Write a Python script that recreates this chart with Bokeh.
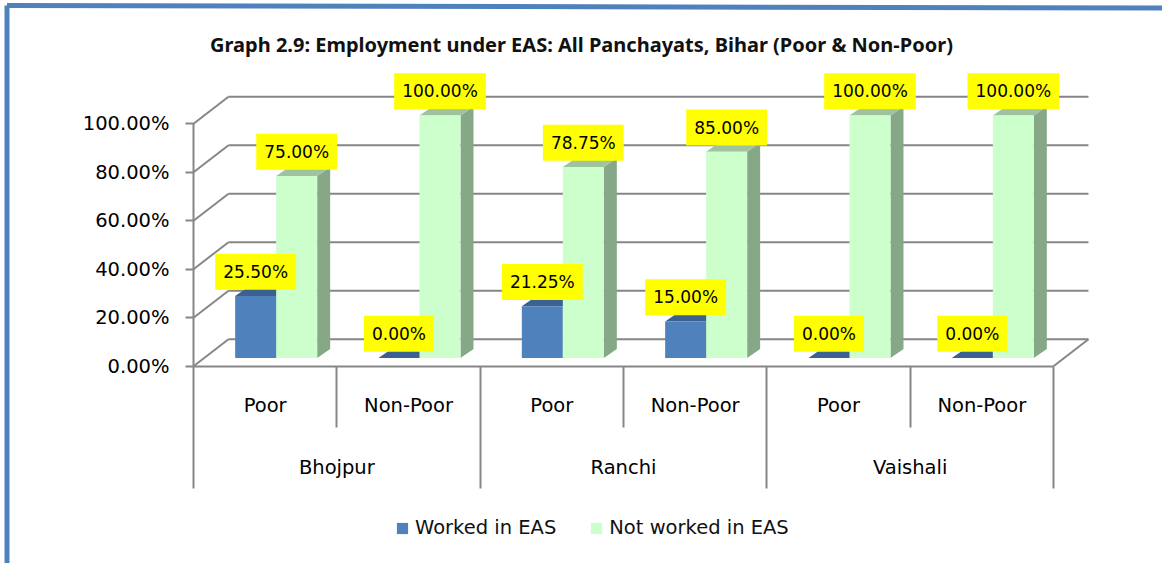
from bokeh.embed import file_html
from bokeh.resources import INLINE
from bokeh.plotting import figure
from bokeh.models import (LinearAxis, FixedTicker, PrintfTickFormatter, Legend, LegendItem,
                          ColumnDataSource, Range1d)

TITLE = "Graph 2.9: Employment under EAS: All Panchayats, Bihar (Poor & Non-Poor)"
districts = ["Bhojpur", "Ranchi", "Vaishali"]
groups = ["Poor", "Non-Poor", "Poor", "Non-Poor", "Poor", "Non-Poor"]
worked = [25.50, 0.00, 21.25, 15.00, 0.00, 0.00]
not_worked = [75.00, 100.00, 78.75, 85.00, 100.00, 100.00]
y_ticks = [0, 20, 40, 60, 80, 100]

W, H = 1162, 563
FRAME_TOP = 58
CAT_PX = 143.33
PCT_PX = 2.425
X0_PX, Y0_PX = 193, 365.7
FONT = "DejaVu Sans"
TITLE_FONT = "Noto Sans"
GREY = "#868686"

x_start = -X0_PX / CAT_PX
x_end = (W - X0_PX) / CAT_PX
y_end = (Y0_PX - FRAME_TOP) / PCT_PX
y_start = (Y0_PX - H) / PCT_PX

# depth of the 3-D box and of the bars, in data units
DX, DY = 35 / CAT_PX, 27 / PCT_PX
BAR_W = 41 / CAT_PX
BDX, BDY = 13 / CAT_PX, 9 / PCT_PX
OFFX, OFFY = 11 / CAT_PX, 8.3 / PCT_PX

p = figure(width=W, height=H, output_backend="svg", toolbar_location=None,
           x_range=Range1d(x_start, x_end), y_range=Range1d(y_start, y_end),
           min_border_left=0, min_border_right=0, min_border_bottom=0, min_border_top=FRAME_TOP,
           x_axis_type=None, y_axis_type=None, outline_line_color=None, title=TITLE,
           styles={"position": "absolute", "left": "0px", "top": "0px"})
p.grid.visible = False
p.title.align = "center"
p.title.text_font = TITLE_FONT
p.title.text_font_size = "20px"
p.title.text_font_style = "bold"
p.title.text_color = "#111111"
p.title.standoff = 2

# window border, drawn at overlay level so that it may leave the plot frame
bx = x_start + 6.5 / CAT_PX
by = (Y0_PX - 7.5) / PCT_PX
p.segment(x0=[bx, bx], y0=[y_start, by + 2.5 / PCT_PX], x1=[bx, x_end], y1=[by + 2.5 / PCT_PX, by],
          line_color="#4F81BD", line_width=5, level="overlay")

n = len(groups)
# walls
p.segment(x0=[0] * 6, y0=y_ticks, x1=[DX] * 6, y1=[t + DY for t in y_ticks], line_color=GREY, line_width=2)
p.segment(x0=[DX] * 6, y0=[t + DY for t in y_ticks], x1=[n + DX] * 6, y1=[t + DY for t in y_ticks],
          line_color=GREY, line_width=2)
p.segment(x0=[n], y0=[0], x1=[n + DX], y1=[DY], line_color=GREY, line_width=2)

centers = [i + 0.5 + OFFX for i in range(n)]


def draw(vals, lefts, front, side, top):
    rights = [l + BAR_W for l in lefts]
    bottoms = [OFFY] * n
    tops = [OFFY + v for v in vals]
    p.patches(xs=[[r, r + BDX, r + BDX, r] for r in rights],
              ys=[[b, b + BDY, t + BDY, t] for b, t in zip(bottoms, tops)],
              fill_color=side, line_color=None)
    p.patches(xs=[[l, r, r + BDX, l + BDX] for l, r in zip(lefts, rights)],
              ys=[[t, t, t + BDY, t + BDY] for t in tops],
              fill_color=top, line_color=None)
    return p.quad(left=lefts, right=rights, bottom=bottoms, top=tops, fill_color=front, line_color=None)


r_blue = draw(worked, [c - BAR_W for c in centers], "#4F81BD", "#3A6190", "#3A6190")
r_green = draw(not_worked, list(centers), "#CCFFCC", "#86A886", "#9FC29F")

# data labels
xs, ys, txt = [], [], []
for i in range(n):
    xs += [centers[i] - BAR_W / 2, centers[i] + BAR_W / 2]
    ys += [OFFY + worked[i], OFFY + not_worked[i]]
    txt += ["%.2f%%" % worked[i], "%.2f%%" % not_worked[i]]
src = ColumnDataSource(dict(x=xs, y=[v + 10 for v in ys], t=txt))
p.text(x="x", y="y", text="t", source=src, text_align="center", text_baseline="middle",
       text_font={"value": FONT}, text_font_size={"value": "17px"}, text_color="black",
       background_fill_color="#FFFF00", padding=8)

# y axis
ya = LinearAxis(fixed_location=0, ticker=FixedTicker(ticks=y_ticks), bounds=(0, 100),
                formatter=PrintfTickFormatter(format="%.2f%%"),
                axis_line_color=GREY, axis_line_width=2, major_tick_line_color=GREY,
                major_tick_line_width=2, major_tick_in=0, major_tick_out=8, minor_tick_line_color=None,
                major_label_standoff=16, major_label_text_font=FONT,
                major_label_text_font_size="19.5px", major_label_text_color="black")
p.add_layout(ya, "left")


def x_axis(ticks, labels=None, **kw):
    style = dict(fixed_location=0, ticker=FixedTicker(ticks=ticks), minor_tick_line_color=None,
                 major_tick_in=0, major_label_text_font=FONT, major_label_text_font_size="19.5px",
                 major_label_text_color="black", bounds=(0, n))
    style.update(kw)
    ax = LinearAxis(**style)
    ax.major_label_overrides = labels or {t: "" for t in ticks}
    p.add_layout(ax, "below")


x_axis([1, 3, 5], major_tick_out=61, major_tick_line_color=GREY, major_tick_line_width=2, axis_line_color=None)
x_axis([0, 2, 4, 6], major_tick_out=122, major_tick_line_color=GREY, major_tick_line_width=2,
       axis_line_color=GREY, axis_line_width=2)
x_axis([i + 0.5 for i in range(n)], {i + 0.5: g for i, g in enumerate(groups)}, major_tick_out=0,
       major_tick_line_color=None, axis_line_color=None, major_label_standoff=28)
x_axis([1, 3, 5], {2 * i + 1: d for i, d in enumerate(districts)}, major_tick_out=0,
       major_tick_line_color=None, axis_line_color=None, major_label_standoff=90)

legend = Legend(items=[LegendItem(label="Worked in EAS", renderers=[r_blue]),
                       LegendItem(label="Not worked in EAS", renderers=[r_green])],
                orientation="horizontal", location=(395, 24), background_fill_alpha=0,
                border_line_color=None, glyph_width=14, glyph_height=14, label_standoff=6,
                spacing=33, label_text_font=FONT, label_text_font_size="19.5px", label_text_color="#111111")
p.add_layout(legend, "center")

open("out.html", "w").write(file_html(p, INLINE))
